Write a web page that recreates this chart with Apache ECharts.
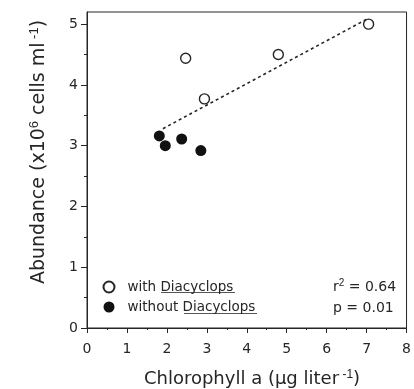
<!DOCTYPE html>
<html>
<head>
<meta charset="utf-8">
<script src="https://cdn.jsdelivr.net/npm/echarts@6/dist/echarts.min.js"></script>
<style>
  html, body {margin: 0; padding: 0; background: #fff;}
  #chart {width: 414px; height: 389px;}
</style>
</head>
<body>
<div id="chart"></div>
<script>
// chlorophyll a (x) vs abundance (y)
var withDiacyclops = [[2.47, 4.44], [2.94, 3.77], [4.79, 4.50], [7.05, 5.00]];
var withoutDiacyclops = [[1.81, 3.16], [1.96, 3.00], [2.37, 3.11], [2.85, 2.92]];
var fitLine = [[1.9, 3.28], [7.0, 5.08]];
var xTicks = [0, 1, 2, 3, 4, 5, 6, 7, 8];
var yTicks = [0, 1, 2, 3, 4, 5];
var yMinor = [0.5, 1.5, 2.5, 3.5, 4.5];
var stats = ['r{sup|2} = 0.64', 'p = 0.01'];

var ink = '#262626';
var font = '"DejaVu Sans", sans-serif';

var chart = echarts.init(document.getElementById('chart'));
chart.setOption({
  animation: false,
  textStyle: {fontFamily: font},
  grid: {left: 87, right: 4, top: 12, bottom: 61, show: true, borderColor: ink, borderWidth: 1},
  xAxis: {
    type: 'value', min: 0, max: 8, interval: 1,
    splitLine: {show: false},
    axisLine: {lineStyle: {color: ink, width: 1}},
    axisTick: {length: 5, lineStyle: {color: ink}},
    minorTick: {show: true, splitNumber: 2, length: 2, lineStyle: {color: ink}},
    axisLabel: {color: ink, fontSize: 14, margin: 14, customValues: xTicks}
  },
  yAxis: [{
    type: 'value', min: 0, max: 5.2,
    splitLine: {show: false},
    axisLine: {lineStyle: {color: ink, width: 1}},
    axisTick: {length: 6, lineStyle: {color: ink}, customValues: yTicks},
    axisLabel: {color: ink, fontSize: 14, margin: 9, customValues: yTicks}
  }, {
    // minor ticks only
    type: 'value', min: 0, max: 5.2, position: 'left',
    splitLine: {show: false},
    axisLine: {show: false},
    axisTick: {length: 3, lineStyle: {color: ink}, customValues: yMinor},
    axisLabel: {show: false}
  }],
  legend: {
    orient: 'vertical', left: 102.5, top: 280, padding: 0,
    itemWidth: 11, itemHeight: 11, itemGap: 6,
    textStyle: {color: ink, fontSize: 13.5, padding: [0, 0, 0, 8]},
    data: ['with Diacyclops', 'without Diacyclops']
  },
  series: [{
    name: 'fit', type: 'line', data: fitLine, showSymbol: false, silent: true,
    lineStyle: {color: ink, width: 1.6, type: [3, 3]}
  }, {
    name: 'with Diacyclops', type: 'scatter', data: withDiacyclops, symbolSize: 10,
    itemStyle: {color: '#fff', borderColor: ink, borderWidth: 1.4, opacity: 1}
  }, {
    name: 'without Diacyclops', type: 'scatter', data: withoutDiacyclops, symbolSize: 11,
    itemStyle: {color: '#111', opacity: 1}
  }],
  graphic: [{
    type: 'text', x: 252, y: 379,
    style: {
      text: 'Chlorophyll a (μg liter{sup| -1})', align: 'center', verticalAlign: 'middle',
      font: '18px ' + font, fill: ink,
      rich: {sup: {fontSize: 12, padding: [0, 0, 9, 0], fill: ink}}
    }
  }, {
    type: 'text', x: 39, y: 152, rotation: Math.PI / 2,
    style: {
      text: 'Abundance (x10{sup|6} cells ml{sup| -1})', align: 'center', verticalAlign: 'middle',
      font: '19px ' + font, fill: ink,
      rich: {sup: {fontSize: 13, padding: [0, 0, 10, 0], fill: ink}}
    }
  }, {
    type: 'text', x: 333, y: 287,
    style: {
      text: stats[0], verticalAlign: 'middle', font: '14px ' + font, fill: ink,
      rich: {sup: {fontSize: 10, padding: [0, 0, 8, 0], fill: ink}}
    }
  }, {
    type: 'text', x: 333, y: 308,
    style: {text: stats[1], verticalAlign: 'middle', font: '14px ' + font, fill: ink}
  }, {
    // underline the genus name
    type: 'line', shape: {x1: 161, y1: 292.5, x2: 235, y2: 292.5}, style: {stroke: '#555', lineWidth: 1}
  }, {
    type: 'line', shape: {x1: 184, y1: 313.5, x2: 257, y2: 313.5}, style: {stroke: '#555', lineWidth: 1}
  }]
});
</script>
</body>
</html>
